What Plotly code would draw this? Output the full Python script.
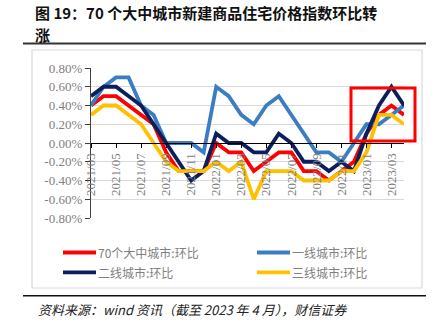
import plotly.graph_objects as go

# ---------------- data ----------------
months = ["2021/03", "2021/04", "2021/05", "2021/06", "2021/07", "2021/08", "2021/09",
          "2021/10", "2021/11", "2021/12", "2022/01", "2022/02", "2022/03", "2022/04",
          "2022/05", "2022/06", "2022/07", "2022/08", "2022/09", "2022/10", "2022/11",
          "2022/12", "2023/01", "2023/02", "2023/03", "2023/04"]
tick_labels = months[::2]

city70 = [0.4, 0.5, 0.5, 0.4, 0.3, 0.2, -0.1, -0.3, -0.3, -0.3, 0.0, -0.1, -0.1,
          -0.3, -0.2, -0.1, -0.1, -0.3, -0.3, -0.4, -0.3, -0.2, 0.1, 0.3, 0.4, 0.3]
tier1 = [0.4, 0.6, 0.7, 0.7, 0.4, 0.3, 0.0, 0.0, 0.0, -0.1, 0.6, 0.5, 0.3,
         0.2, 0.4, 0.5, 0.3, 0.1, -0.1, -0.1, -0.2, 0.0, 0.2, 0.2, 0.3, 0.4]
tier2 = [0.5, 0.6, 0.6, 0.5, 0.4, 0.2, 0.0, -0.2, -0.4, -0.3, 0.1, 0.0, 0.0,
         -0.1, -0.1, 0.1, 0.0, -0.2, -0.2, -0.3, -0.2, -0.3, 0.1, 0.4, 0.6, 0.4]
tier3 = [0.3, 0.4, 0.4, 0.3, 0.2, 0.0, -0.2, -0.3, -0.3, -0.3, -0.2, -0.3, -0.2,
         -0.6, -0.3, -0.3, -0.3, -0.4, -0.4, -0.4, -0.3, -0.3, -0.1, 0.3, 0.3, 0.2]

series_names = ["70个大中城市:环比", "一线城市:环比", "二线城市:环比", "三线城市:环比"]
series_values = [city70, tier1, tier2, tier3]
series_colors = ["#FF0000", "#3A7DC3", "#0B1F5E", "#FFC000"]

y_ticks = [0.8, 0.6, 0.4, 0.2, 0.0, -0.2, -0.4, -0.6, -0.8]
y_ticktext = ["%.2f%%" % v for v in y_ticks]

title_line1 = "图 19：70 个大中城市新建商品住宅价格指数环比转"
title_line2 = "涨"
source_text = "资料来源：wind 资讯（截至 2023 年 4 月），财信证券"

# ---------------- layout geometry ----------------
W, H = 443, 335
ML, MR, MT, MB = 91, 39, 68, 117
PW, PH = W - ML - MR, H - MT - MB


def px_x(p):
    return (p - ML) / PW


def px_y(p):
    return (H - MB - p) / PH


fig = go.Figure()
for name, vals, col in zip(series_names, series_values, series_colors):
    fig.add_trace(go.Scatter(x=months, y=vals, mode="lines", name=name,
                             line=dict(color=col, width=3.8), showlegend=False))

serif = "Liberation Serif, Times New Roman, serif"
cjk = "Noto Sans CJK SC, sans-serif"

fig.update_layout(
    width=W, height=H,
    margin=dict(l=ML, r=MR, t=MT, b=MB, pad=0),
    paper_bgcolor="white", plot_bgcolor="white",
    xaxis=dict(type="category", range=[0, len(months) - 1], anchor="free", position=0.5,
               showline=True, linecolor="#000000", linewidth=1.3,
               ticks="outside", ticklen=4, tickcolor="#000000",
               tickmode="array", tickvals=tick_labels, ticktext=tick_labels,
               tickangle=-90, tickfont=dict(family=serif, size=13, color="#808080"),
               showgrid=False, zeroline=False),
    yaxis=dict(range=[-0.8, 0.8], tickmode="array", tickvals=y_ticks, ticktext=y_ticktext,
               showline=True, linecolor="#404040", linewidth=1.3,
               ticks="outside", ticklen=5, tickcolor="#404040",
               tickfont=dict(family=serif, size=13, color="#808080"),
               showgrid=True, gridcolor="#D9D9D9", gridwidth=1, zeroline=False),
)

shapes = []
# outer light frame
shapes.append(dict(type="rect", xref="paper", yref="paper",
                   x0=px_x(32), x1=px_x(422), y0=px_y(288), y1=px_y(50),
                   line=dict(color="#D9D9D9", width=1.2), layer="below"))
# dark rules
shapes.append(dict(type="line", xref="paper", yref="paper",
                   x0=px_x(23), x1=px_x(426), y0=px_y(43.5), y1=px_y(43.5),
                   line=dict(color="#333333", width=2)))
shapes.append(dict(type="line", xref="paper", yref="paper",
                   x0=px_x(23), x1=px_x(426), y0=px_y(295.7), y1=px_y(295.7),
                   line=dict(color="#111111", width=1.6)))
# red highlight box
shapes.append(dict(type="rect", xref="paper", yref="paper",
                   x0=px_x(351), x1=px_x(415), y0=px_y(141), y1=px_y(88),
                   line=dict(color="#FF0000", width=3)))

annotations = []
# legend (manual, 2 columns)
legend_pos = [(63, 252.5), (257, 252.5), (63, 272.3), (257, 272.3)]
for (lx, ly), name, col in zip(legend_pos, series_names, series_colors):
    shapes.append(dict(type="line", xref="paper", yref="paper",
                       x0=px_x(lx), x1=px_x(lx + 33), y0=px_y(ly), y1=px_y(ly),
                       line=dict(color=col, width=3.8)))
    annotations.append(dict(xref="paper", yref="paper", x=px_x(lx + 33), y=px_y(ly),
                            xanchor="left", yanchor="middle", showarrow=False,
                            text=name, font=dict(family=cjk, size=12, color="#808080")))

# title (two lines, placed separately)
annotations.append(dict(xref="paper", yref="paper", x=px_x(33), y=px_y(12.5),
                        xanchor="left", yanchor="middle", showarrow=False,
                        text="<b>" + title_line1 + "</b>",
                        font=dict(family=cjk, size=15, color="#111111")))
annotations.append(dict(xref="paper", yref="paper", x=px_x(33), y=px_y(34),
                        xanchor="left", yanchor="middle", showarrow=False,
                        text="<b>" + title_line2 + "</b>",
                        font=dict(family=cjk, size=15, color="#111111")))
# source
annotations.append(dict(xref="paper", yref="paper", x=px_x(36), y=px_y(309.5),
                        xanchor="left", yanchor="middle", showarrow=False,
                        text="<i>" + source_text + "</i>",
                        font=dict(family=cjk, size=13, color="#222222")))

fig.update_layout(shapes=shapes, annotations=annotations)
fig.write_html("out.html")
